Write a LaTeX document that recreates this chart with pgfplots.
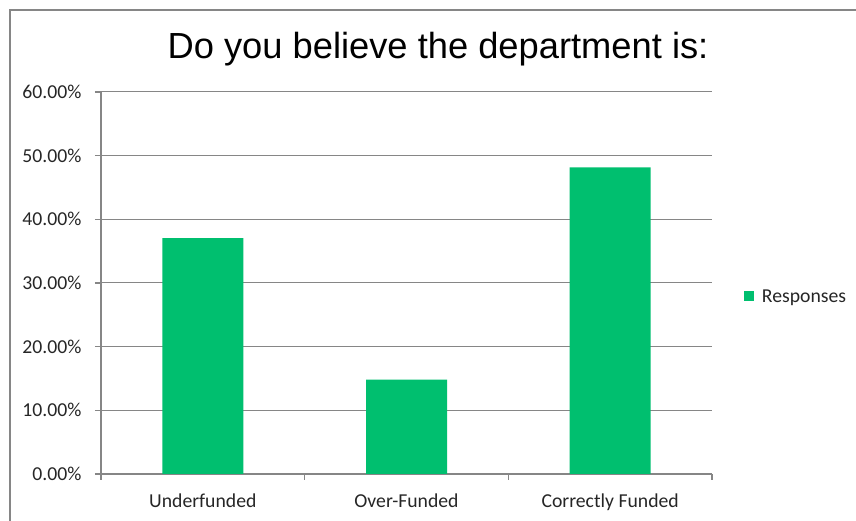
\documentclass[border=0pt]{standalone}
\usepackage{fontspec}
\setmainfont{Carlito}
\newfontfamily\titlefont{Liberation Sans}
\usepackage{pgfplots}
\pgfplotsset{compat=1.18}
\definecolor{barg}{RGB}{0,191,111}
\definecolor{gr}{RGB}{134,134,134}
\begin{document}
\begin{tikzpicture}
\useasboundingbox (0pt,0pt) rectangle (856pt,521pt);
\draw[gr, line width=1.5pt] (10pt,-20pt) -- (10pt,511pt) -- (880pt,511pt);
\node[anchor=base, font=\titlefont\fontsize{36.3}{40}\selectfont] at (438pt,462pt) {Do you believe the department is:};
\begin{axis}[
  at={(101pt,47pt)}, anchor=south west, scale only axis,
  width=611pt, height=382pt,
  xmin=-0.5, xmax=2.5, ymin=0, ymax=60,
  ytick={0,10,...,60},
  xtick={0,1,2},
  xticklabels={Underfunded,Over-Funded,Correctly Funded},
  minor xtick={-0.5,0.5,1.5,2.5},
  axis x line*=bottom, axis y line*=left,
  axis line style={gr, line width=1.2pt},
  tick align=outside,
  major tick length=6pt, minor tick length=6pt,
  x tick style={draw=none},
  minor x tick style={draw=gr, line width=1.2pt},
  y tick style={draw=gr, line width=1.2pt},
  ymajorgrids, grid style={gr, line width=1pt},
  /pgf/number format/assume math mode=true,
  yticklabel={\pgfmathprintnumber[fixed,fixed zerofill,precision=2]{\tick}\%},
  ticklabel style={font=\fontsize{19.7}{22}\selectfont, text=black!85},
  yticklabel style={xshift=-10pt},
  xticklabel style={yshift=-10pt},
  ybar, bar width=81pt,
  legend style={at={(1.052,0.463)}, anchor=west, draw=none, fill=none, inner sep=0pt,
    font=\fontsize{19.7}{22}\selectfont, text=black!85},
  legend image code/.code={\fill[#1] (0pt,-4pt) rectangle (10pt,6pt); \path (16pt,0pt);},
]
\addplot[fill=barg, draw=none] coordinates {(0,37.04) (1,14.81) (2,48.15)};
\addlegendentry{Responses}
\end{axis}
\end{tikzpicture}
\end{document}
